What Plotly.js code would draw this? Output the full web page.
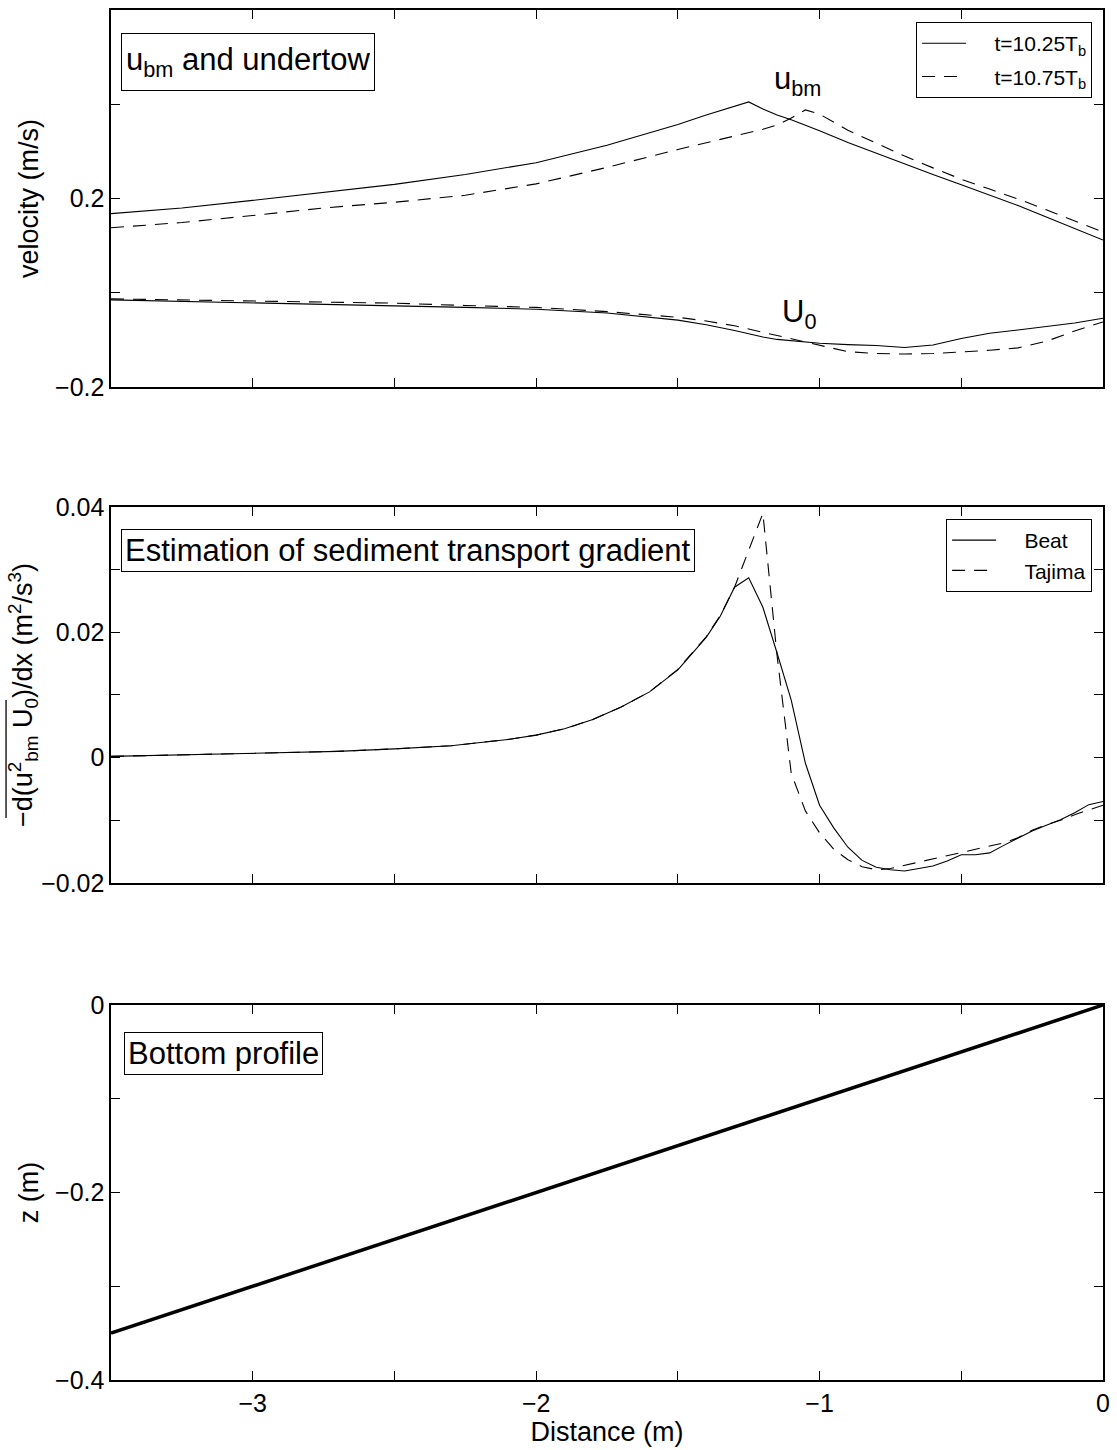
<!DOCTYPE html>
<html><head><meta charset="utf-8">
<script src="https://cdn.plot.ly/plotly-3.0.1.min.js"></script>
<style>html,body{margin:0;padding:0;background:#fff}</style>
</head><body>
<div id="chart" style="width:1117px;height:1450px"></div>
<script>
// ---------- data ----------
const xVel = [-3.5,-3.25,-3,-2.75,-2.5,-2.25,-2,-1.75,-1.5,-1.4,-1.3,-1.25,-1.2,-1.15,-1.1,-1.05,-1,-0.9,-0.8,-0.7,-0.6,-0.5,-0.4,-0.3,-0.2,-0.1,0];
const ubm1025 = [0.168,0.180,0.196,0.213,0.230,0.251,0.276,0.313,0.357,0.377,0.395,0.405,0.390,0.377,0.367,0.356,0.344,0.319,0.296,0.274,0.251,0.229,0.207,0.185,0.161,0.137,0.112];
const ubm1075 = [0.138,0.149,0.164,0.180,0.192,0.207,0.231,0.266,0.304,0.318,0.333,0.340,0.347,0.356,0.371,0.388,0.379,0.345,0.317,0.290,0.265,0.241,0.220,0.199,0.176,0.153,0.129];
const u0_1025 = [-0.015,-0.018,-0.021,-0.025,-0.028,-0.031,-0.035,-0.043,-0.058,-0.068,-0.080,-0.087,-0.094,-0.099,-0.102,-0.105,-0.107,-0.110,-0.112,-0.116,-0.111,-0.097,-0.086,-0.079,-0.072,-0.064,-0.054];
const u0_1075 = [-0.013,-0.015,-0.017,-0.019,-0.022,-0.027,-0.031,-0.040,-0.052,-0.060,-0.070,-0.077,-0.084,-0.090,-0.097,-0.104,-0.111,-0.125,-0.129,-0.130,-0.129,-0.126,-0.122,-0.117,-0.103,-0.081,-0.062];

const xGrad = [-3.5,-3.3,-3.1,-2.9,-2.7,-2.5,-2.3,-2.1,-2.0,-1.9,-1.8,-1.7,-1.6,-1.5,-1.4,-1.35,-1.3,-1.25,-1.2,-1.15,-1.1,-1.05,-1.0,-0.95,-0.9,-0.85,-0.8,-0.75,-0.7,-0.65,-0.6,-0.55,-0.5,-0.45,-0.4,-0.35,-0.3,-0.25,-0.2,-0.15,-0.1,-0.05,0];
const gradBeat = [0.0002,0.0004,0.0006,0.0008,0.0010,0.0014,0.0019,0.0029,0.0036,0.0046,0.0061,0.0081,0.0105,0.0140,0.0192,0.0226,0.0272,0.0287,0.0240,0.0167,0.0092,-0.0009,-0.0076,-0.0112,-0.0143,-0.0164,-0.0175,-0.0179,-0.0181,-0.0177,-0.0173,-0.0165,-0.0155,-0.0155,-0.0152,-0.0140,-0.0128,-0.0117,-0.0108,-0.0099,-0.0088,-0.0075,-0.0070];
const gradTajima = [0.0002,0.0004,0.0006,0.0008,0.0010,0.0014,0.0019,0.0029,0.0036,0.0046,0.0061,0.0081,0.0105,0.0141,0.0193,0.0227,0.0272,0.0331,0.0390,0.0163,-0.0025,-0.0085,-0.0120,-0.0146,-0.0163,-0.0174,-0.0179,-0.0177,-0.0172,-0.0167,-0.0162,-0.0157,-0.0152,-0.0147,-0.0141,-0.0136,-0.0128,-0.0116,-0.0107,-0.0100,-0.0091,-0.0083,-0.0076];

const xProfile = [-3.5, 0];
const zProfile = [-0.35, 0];

const xTickVals = [-3.5,-3,-2.5,-2,-1.5,-1,-0.5,0];
const xTickText = ['','−3','','−2','','−1','','0'];
const yVelTickVals = [-0.2,0,0.2,0.4,0.6];
const yVelTickText = ['−0.2','','0.2','',''];
const yGradTickVals = [-0.02,-0.01,0,0.01,0.02,0.03,0.04];
const yGradTickText = ['−0.02','','0','','0.02','','0.04'];
const yZTickVals = [-0.4,-0.3,-0.2,-0.1,0];
const yZTickText = ['−0.4','','−0.2','','0'];

// ---------- styling ----------
const FONT = '"Liberation Sans", Arial, Helvetica, sans-serif';
const solid = {color:'#000', width:1.1};
const dashed = {color:'#000', width:1.1, dash:'13px,9px'};
const PAD = '\u00A0\u00A0\u00A0\u00A0';

const traces = [
  {x:xVel, y:ubm1025, type:'scatter', mode:'lines', line:solid, name:PAD+'t=10.25T<sub>b</sub>', legendgroup:'a', xaxis:'x', yaxis:'y', legend:'legend'},
  {x:xVel, y:ubm1075, type:'scatter', mode:'lines', line:dashed, name:PAD+'t=10.75T<sub>b</sub>', legendgroup:'b', xaxis:'x', yaxis:'y', legend:'legend'},
  {x:xVel, y:u0_1025, type:'scatter', mode:'lines', line:solid, showlegend:false, xaxis:'x', yaxis:'y'},
  {x:xVel, y:u0_1075, type:'scatter', mode:'lines', line:dashed, showlegend:false, xaxis:'x', yaxis:'y'},
  {x:xGrad, y:gradBeat, type:'scatter', mode:'lines', line:solid, name:PAD+'Beat', xaxis:'x2', yaxis:'y2', legend:'legend2'},
  {x:xGrad, y:gradTajima, type:'scatter', mode:'lines', line:dashed, name:PAD+'Tajima', xaxis:'x2', yaxis:'y2', legend:'legend2'},
  {x:xProfile, y:zProfile, type:'scatter', mode:'lines', line:{color:'#000', width:3.5}, showlegend:false, xaxis:'x3', yaxis:'y3'}
];

const axisBase = {
  showline:true, linecolor:'#000', linewidth:1.6, mirror:'ticks',
  ticks:'inside', ticklen:9, tickwidth:1, tickcolor:'#000',
  showgrid:false, zeroline:false, tickfont:{family:FONT, size:25, color:'#000'},
  fixedrange:true
};
const titleFont = {family:FONT, size:27, color:'#000'};
function xa(anchor, labels){
  return Object.assign({}, axisBase, {anchor:anchor, domain:[0,1], range:[-3.5,0],
    tickmode:'array', tickvals:xTickVals, ticktext:xTickText, showticklabels:labels});
}
function ya(anchor, dom, rng, tv, tt, title, standoff){
  return Object.assign({}, axisBase, {anchor:anchor, domain:dom, range:rng,
    tickmode:'array', tickvals:tv, ticktext:tt,
    title:{text:title, font:titleFont, standoff:standoff}});
}
const legendBase = {xanchor:'right', yanchor:'top', bgcolor:'#fff', bordercolor:'#000', borderwidth:1,
  font:{family:FONT, size:21, color:'#000'}, itemwidth:44};

const layout = {
  width:1117, height:1450,
  margin:{l:111, r:14, t:10, b:70},
  paper_bgcolor:'#fff', plot_bgcolor:'#fff',
  font:{family:FONT, color:'#000'},
  showlegend:true,
  xaxis: xa('y', false),
  xaxis2: xa('y2', false),
  xaxis3: Object.assign(xa('y3', true), {title:{text:'Distance (m)', font:titleFont, standoff:2}}),
  yaxis: ya('x', [0.7248,1], [-0.2,0.6], yVelTickVals, yVelTickText, 'velocity (m/s)', 8),
  yaxis2: ya('x2', [0.3628,0.6372], [-0.02,0.04], yGradTickVals, yGradTickText,
    '−d(u<sup>2</sup><sub>bm</sub> U<sub>0</sub>)/dx (m<sup>2</sup>/s<sup>3</sup>)', 0),
  yaxis3: ya('x3', [0,0.2737], [-0.4,0], yZTickVals, yZTickText, 'z (m)', 8),
  legend: Object.assign({x:0.989, y:0.9912, tracegroupgap:3, traceorder:'grouped'}, legendBase),
  legend2: Object.assign({x:0.989, y:0.6285}, legendBase),
  shapes: [
    // overline of the averaged term in the gradient axis title
    {type:'line', xref:'paper', yref:'paper', x0:-0.1058, x1:-0.1058, y0:0.4102, y1:0.4964,
     line:{color:'#000', width:1.3}}
  ],
  annotations: [
    {xref:'paper', yref:'paper', x:0.0101, y:0.9832, xanchor:'left', yanchor:'top', showarrow:false,
     text:'u<sub>bm</sub> and undertow', font:{family:FONT, size:31, color:'#000'}, height:48, valign:'middle',
     bordercolor:'#000', borderwidth:1, borderpad:4, bgcolor:'#fff'},
    {xref:'paper', yref:'paper', x:0.0101, y:0.6212, xanchor:'left', yanchor:'top', showarrow:false,
     text:'Estimation of sediment transport gradient', font:{family:FONT, size:31, color:'#000'},
     bordercolor:'#000', borderwidth:1, borderpad:3, bgcolor:'#fff'},
    {xref:'paper', yref:'paper', x:0.0131, y:0.254, xanchor:'left', yanchor:'top', showarrow:false,
     text:'Bottom profile', font:{family:FONT, size:31, color:'#000'},
     bordercolor:'#000', borderwidth:1, borderpad:3, bgcolor:'#fff'},
    {xref:'x', yref:'y', x:-1.168, y:0.45, xanchor:'left', yanchor:'middle', showarrow:false,
     text:'u<sub>bm</sub>', font:{family:FONT, size:31, color:'#000'}},
    {xref:'x', yref:'y', x:-1.14, y:-0.045, xanchor:'left', yanchor:'middle', showarrow:false,
     text:'U<sub>0</sub>', font:{family:FONT, size:31, color:'#000'}}
  ]
};

Plotly.newPlot('chart', traces, layout, {staticPlot:true, displayModeBar:false});
</script>
</body></html>
